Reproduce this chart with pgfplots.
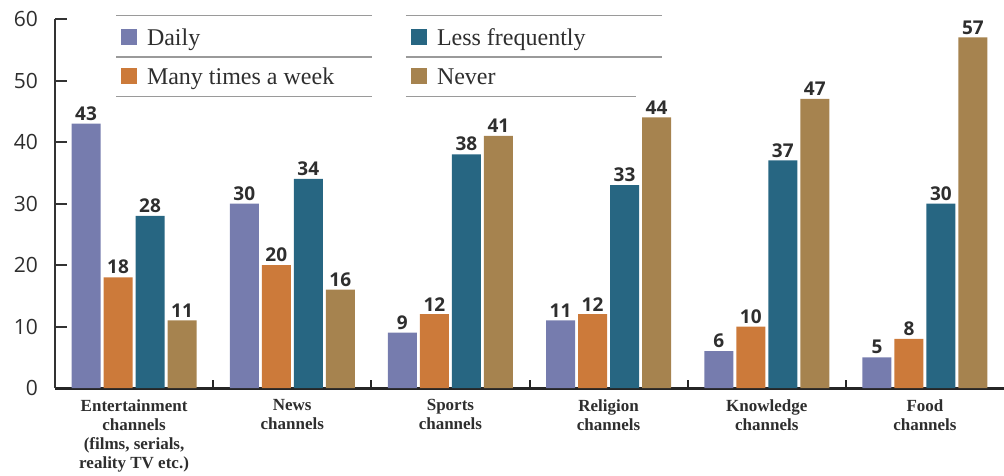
\documentclass[border=0pt]{standalone}
\usepackage{fontspec}
\setmainfont{Liberation Serif}
\newfontfamily\tickfont{Open Sans}
\usepackage{pgfplots}
\pgfplotsset{compat=1.18}
\definecolor{cDaily}{HTML}{767CAE}
\definecolor{cMany}{HTML}{CC7A3A}
\definecolor{cLess}{HTML}{276682}
\definecolor{cNever}{HTML}{A6834F}
\definecolor{txt}{HTML}{2E2E2E}
\definecolor{sepc}{HTML}{9A9A9A}
\begin{document}
\begin{tikzpicture}
\useasboundingbox (0,0) rectangle (1004pt,475pt);
\begin{axis}[
  at={(55pt,87pt)}, anchor=south west,
  scale only axis, width=949pt, height=369pt,
  xmin=-0.5, xmax=5.5, ymin=0, ymax=60,
  clip=false,
  ybar, bar width=29pt,
  axis x line=bottom, axis y line=left,
  x axis line style={-, line width=3pt, color=black!85},
  y axis line style={-, line width=2pt, color=black!80},
  /pgf/number format/assume math mode=true,
  ytick={0,10,20,30,40,50,60},
  tick align=inside,
  major tick length=12pt,
  ytick style={line width=2pt, color=black!80},
  yticklabel style={font=\tickfont\fontsize{21}{21}\selectfont, text=txt, inner sep=0pt, anchor=east, xshift=-17pt},
  xtick={0,1,2,3,4,5},
  xtick style={draw=none},
  extra x ticks={0.5,1.5,2.5,3.5,4.5},
  extra x tick labels={},
  extra x tick style={major tick length=8pt, xtick style={draw=black!85, line width=2pt}},
  xticklabels={{Entertainment\\channels\\(films, serials,\\reality TV etc.)},{News\\channels},{Sports\\channels},{Religion\\channels},{Knowledge\\channels},{Food\\channels}},
  xticklabel style={font=\bfseries\fontsize{17}{19}\selectfont, align=center, text=txt, inner sep=0pt, anchor=north, yshift=-11pt},
  every node near coord/.append style={font=\tickfont\bfseries\fontsize{19}{19}\selectfont, text=txt, anchor=south, inner sep=3pt},
  legend columns=2,
  legend style={at={(axis cs:-0.0827,58.44)}, anchor=north west, draw=none, fill=none, inner sep=0pt, outer sep=0pt, row sep=20.7pt, column sep=0pt, nodes={inner sep=0pt, text=txt, font=\fontsize{24}{24}\selectfont, anchor=base west}},
]
\addplot[ybar, bar width=29pt, bar shift=-48pt, fill=cDaily, draw=none, forget plot, nodes near coords] coordinates {(0,43) (1,30) (2,9) (3,11) (4,6) (5,5)};
\addplot[ybar, bar width=29pt, bar shift=-16pt, fill=cMany, draw=none, forget plot, nodes near coords] coordinates {(0,18) (1,20) (2,12) (3,12) (4,10) (5,8)};
\addplot[ybar, bar width=29pt, bar shift=16pt, fill=cLess, draw=none, forget plot, nodes near coords] coordinates {(0,28) (1,34) (2,38) (3,33) (4,37) (5,30)};
\addplot[ybar, bar width=29pt, bar shift=48pt, fill=cNever, draw=none, forget plot, nodes near coords] coordinates {(0,11) (1,16) (2,41) (3,44) (4,47) (5,57)};
\addlegendimage{legend image code/.code={\fill[cDaily, draw=none] (0pt,0pt) rectangle (16pt,16pt); \path[draw=none, fill=none] (0pt,0pt) rectangle (26pt,16pt);}}
\addlegendentry{\makebox[264pt][l]{Daily}}
\addlegendimage{legend image code/.code={\fill[cLess, draw=none] (0pt,0pt) rectangle (16pt,16pt); \path[draw=none, fill=none] (0pt,0pt) rectangle (26pt,16pt);}}
\addlegendentry{Less frequently}
\addlegendimage{legend image code/.code={\fill[cMany, draw=none] (0pt,0pt) rectangle (16pt,16pt); \path[draw=none, fill=none] (0pt,0pt) rectangle (26pt,16pt);}}
\addlegendentry{\makebox[264pt][l]{Many times a week}}
\addlegendimage{legend image code/.code={\fill[cNever, draw=none] (0pt,0pt) rectangle (16pt,16pt); \path[draw=none, fill=none] (0pt,0pt) rectangle (26pt,16pt);}}
\addlegendentry{Never}
\draw[sepc, line width=1.5pt] (axis cs:-0.114,60.6) -- (axis cs:1.504,60.6);
\draw[sepc, line width=1.5pt] (axis cs:-0.114,53.82) -- (axis cs:1.504,53.82);
\draw[sepc, line width=1.5pt] (axis cs:-0.114,47.43) -- (axis cs:1.504,47.43);
\draw[sepc, line width=1.5pt] (axis cs:1.719,60.6) -- (axis cs:3.338,60.6);
\draw[sepc, line width=1.5pt] (axis cs:1.719,53.82) -- (axis cs:3.338,53.82);
\draw[sepc, line width=1.5pt] (axis cs:1.719,47.43) -- (axis cs:3.173,47.43);
\end{axis}
\end{tikzpicture}
\end{document}
